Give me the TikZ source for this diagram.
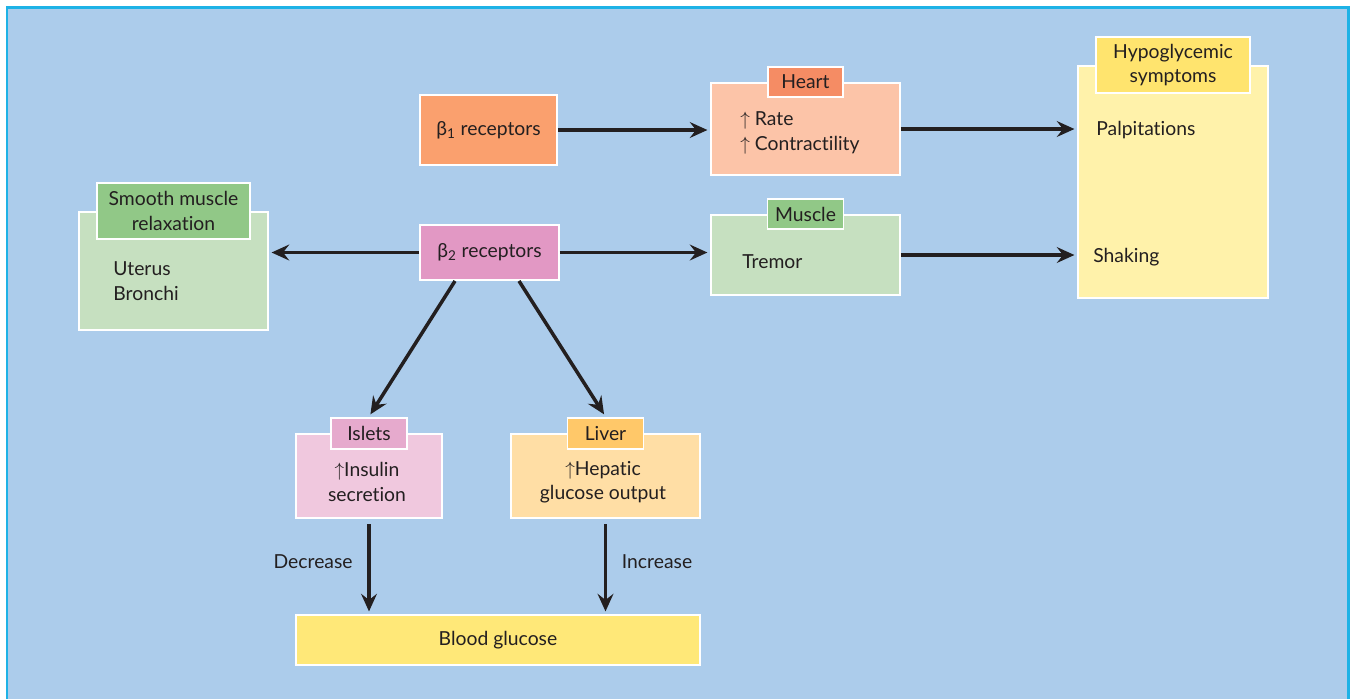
\documentclass[tikz,border=0pt]{standalone}
\usepackage{fontspec}
\setmainfont{Lato}[Ligatures=NoCommon]
\usetikzlibrary{arrows.meta,positioning,calc}
\definecolor{panel}{RGB}{172,204,235}
\definecolor{panelline}{RGB}{30,178,230}
\definecolor{ink}{RGB}{35,31,32}
\definecolor{betaone}{RGB}{250,160,110}
\definecolor{betatwo}{RGB}{226,152,196}
\definecolor{heartbox}{RGB}{252,196,168}
\definecolor{hearttag}{RGB}{245,140,100}
\definecolor{musclebox}{RGB}{198,224,192}
\definecolor{muscletag}{RGB}{145,200,135}
\definecolor{hypobox}{RGB}{255,242,170}
\definecolor{hypotag}{RGB}{255,228,110}
\definecolor{isletbox}{RGB}{240,200,222}
\definecolor{islettag}{RGB}{230,170,205}
\definecolor{liverbox}{RGB}{255,222,165}
\definecolor{livertag}{RGB}{255,200,105}
\definecolor{glucose}{RGB}{255,232,120}

\begin{document}
\begin{tikzpicture}[
  x=0.02cm, y=-0.02cm,
  every node/.style={font=\fontsize{11}{14}\selectfont, text=ink},
  box/.style={
    draw=white,
    line width=1.1pt,
    inner sep=0pt
  },
  tag/.style={
    box,
    minimum height=0.6cm,
    align=center
  },
  body/.style={align=left, anchor=west, inner sep=0pt},
  arr/.style={
    -{Stealth[length=10pt,width=9pt,inset=3.5pt]},
    line width=2pt,
    color=ink,
    shorten >=1.5pt
  }
]

% Panel
\useasboundingbox (0,0) rectangle (1352,698);
\draw[panelline, fill=panel, line width=1.7pt] (7,7) rectangle (1348,720);

% Receptors
\node[box, fill=betaone, minimum width=2.74cm, minimum height=1.4cm] (b1) at (488.5,130) {β\textsubscript{1} receptors};
\node[box, fill=betatwo, minimum width=2.78cm, minimum height=1.1cm] (b2) at (489.5,252.5) {β\textsubscript{2} receptors};

% Heart
\node[box, fill=heartbox, minimum width=3.78cm, minimum height=1.84cm] (heart) at (805.5,129) {};
\node[tag, fill=hearttag, minimum width=1.5cm] (hearttg) at (heart.north) {Heart};
\node[body] (hearttxt) at (740,133) {$\uparrow$ Rate\\$\uparrow$ Contractility};

% Muscle
\node[box, fill=musclebox, minimum width=3.78cm, minimum height=1.6cm] (muscle) at (805.5,255) {};
\node[tag, fill=muscletag, minimum width=1.52cm] (muscletg) at (muscle.north) {Muscle};
\node[body] (muscletxt) at (742,262) {Tremor};

% Smooth muscle
\node[box, fill=musclebox, minimum width=3.78cm, minimum height=2.36cm] (smooth) at (173.5,271) {};
\node[tag, fill=muscletag, minimum width=3.06cm, minimum height=1.12cm] (smoothtg) at (smooth.north) {Smooth muscle\\relaxation};
\node[body] (smoothtxt) at (113,281) {Uterus\\Bronchi};

% Hypoglycemic symptoms
\node[box, fill=hypobox, minimum width=3.8cm, minimum height=4.64cm] (hypo) at (1173,182) {};
\node[tag, fill=hypotag, minimum width=3.08cm, minimum height=1.12cm] (hypotg) at (hypo.north) {Hypoglycemic\\symptoms};
\node[body] (palp) at (1096,130) {Palpitations};
\node[body] (shake) at (1093,257) {Shaking};

% Islets
\node[box, fill=isletbox, minimum width=2.92cm, minimum height=1.68cm] (islets) at (369,476) {};
\node[tag, fill=islettag, minimum width=1.52cm, minimum height=0.62cm] (isletstg) at (islets.north) {Islets};
\node[align=center, inner sep=0pt] (isletstxt) at (367,482) {$\uparrow$Insulin\\secretion};

% Liver
\node[box, fill=liverbox, minimum width=3.78cm, minimum height=1.68cm] (liver) at (605.5,476) {};
\node[tag, fill=livertag, minimum width=1.52cm, minimum height=0.62cm] (livertg) at (liver.north) {Liver};
\node[align=center, inner sep=0pt] (livertxt) at (603,482) {$\uparrow$Hepatic\\glucose output};

% Blood glucose
\node[box, fill=glucose, minimum width=8.08cm, minimum height=1.0cm] (blood) at (498,640) {Blood glucose};

% Arrows
\draw[arr] (b1.east) -- (b1.east -| heart.west);
\draw[arr] (heart.east) -- (heart.east -| hypo.west);
\draw[arr] (b2.west) -- (b2.west -| smooth.east);
\draw[arr] (b2.east) -- (b2.east -| muscle.west);
\draw[arr] (muscle.east) -- (muscle.east -| hypo.west);
\draw[arr] ([xshift=-0.69cm]b2.south) -- (isletstg.north);
\draw[arr] ([xshift=0.59cm]b2.south) -- (livertg.north);
\draw[arr] ([yshift=-3pt]islets.south) -- (islets.south |- blood.north)
  node[pos=0.42, left=5pt] {Decrease};
\draw[arr] ([yshift=-3pt]liver.south) -- (liver.south |- blood.north)
  node[pos=0.42, right=5pt] {Increase};

\end{tikzpicture}
\end{document}
